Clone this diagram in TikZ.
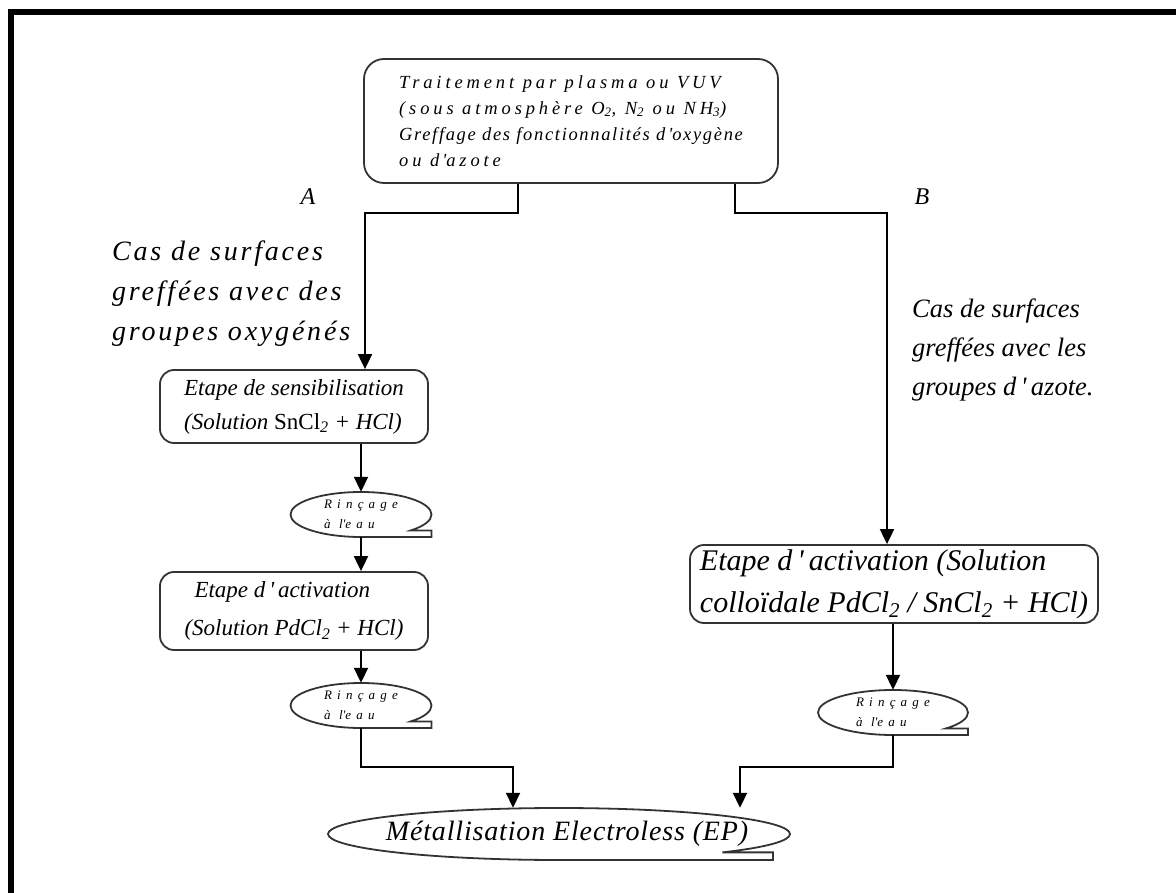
\documentclass[tikz,border=0pt]{standalone}
\usepackage{fontspec}
\setmainfont{Liberation Serif}
\newfontfamily\wideserif[LetterSpace=21]{Liberation Serif}
\newfontfamily\midserif[LetterSpace=10]{Liberation Serif}
\newfontfamily\lightserif[LetterSpace=3]{Liberation Serif}
\newfontfamily\tinyserif[LetterSpace=40]{Liberation Serif}
\usetikzlibrary{arrows.meta}

\tikzset{
  boxline/.style={draw=black!80, line width=1.8pt},
  stepbox/.style={boxline, rectangle, rounded corners=14pt, inner sep=0pt, align=left},
  tapebox/.style={rectangle, inner sep=0pt, align=left},
  lbl/.style={inner sep=0pt, align=left},
  link/.style={draw=black, line width=1.9pt},
  arr/.style={link, -{Triangle[length=15pt,width=14pt]}},
}

% outline of a "sequential access storage" shape around a node:
% #1 node, #2 x radius, #3 y radius, #4 tail length from the centre
\newcommand\tapeoutline[4]{%
  \draw[boxline] (#1.center) ++({0.7071*#2},{-0.7071*#3})
    arc[start angle=-45, end angle=270, x radius=#2pt, y radius=#3pt]
    -- ++(#4,0) -- ++(0,{0.2929*#3}) -- cycle;}

\begin{document}
\begin{tikzpicture}[x=1pt, y=1pt]
\useasboundingbox (0,0) rectangle (1176,-893);

% heavy frame on the top and left edges
\fill (8,-9) rectangle (1176,-15);
\fill (8,-9) rectangle (14,-893);

% starting treatment
\node[stepbox, rounded corners=20pt, minimum width=414pt, minimum height=124pt,
      font=\wideserif\itshape\fontsize{18.5}{26}\selectfont] (top) at (571,-121)
  {Traitement par plasma ou VUV\\
   (sous atmosphère O\textsubscript{2}, N\textsubscript{2} ou NH\textsubscript{3})\\
   {\addfontfeature{LetterSpace=9}Greffage des fonctionnalités d\,\textquotesingle oxygène}\\
   ou d\,\textquotesingle azote};

% branch letters and branch descriptions
\node[lbl, font=\itshape\fontsize{24}{24}\selectfont] (brA) at (308,-197) {A};
\node[lbl, font=\itshape\fontsize{24}{24}\selectfont] (brB) at (922,-197) {B};

\node[lbl, anchor=west, font=\midserif\itshape\fontsize{28}{40}\selectfont] (casA) at (112,-294)
  {Cas de surfaces\\greffées avec des\\groupes oxygénés};
\node[lbl, anchor=west, font=\itshape\fontsize{26.5}{39}\selectfont] (casB) at (912,-350)
  {Cas de surfaces\\greffées avec les\\groupes d\,\textquotesingle\,azote.};

% branch A steps
\node[stepbox, minimum width=268pt, minimum height=73pt,
      font=\itshape\fontsize{23}{34}\selectfont] (sens) at (294,-406.5)
  {Etape de sensibilisation\\(Solution {\upshape SnCl}\textsubscript{2} + HCl)};

\node[tapebox, minimum width=141pt, minimum height=45pt,
      font=\tinyserif\itshape\fontsize{13}{20}\selectfont] (rin1) at (361,-514.5)
  {Rinçage\\à l\textquotesingle eau};

\node[stepbox, minimum width=268pt, minimum height=78pt,
      font=\itshape\fontsize{23}{38}\selectfont] (actA) at (294,-611)
  {\hspace{10pt}Etape d\,\textquotesingle\,activation\\(Solution PdCl\textsubscript{2} + HCl)};

\node[tapebox, minimum width=141pt, minimum height=45pt,
      font=\tinyserif\itshape\fontsize{13}{20}\selectfont] (rin2) at (361,-705.5)
  {Rinçage\\à l\textquotesingle eau};

% branch B steps
\node[stepbox, minimum width=408pt, minimum height=78pt,
      font=\itshape\fontsize{30}{42}\selectfont] (actB) at (894,-584)
  {Etape d\,\textquotesingle\,activation (Solution\\colloïdale PdCl\textsubscript{2} / SnCl\textsubscript{2} + HCl)};

\node[tapebox, minimum width=150pt, minimum height=45pt,
      font=\tinyserif\itshape\fontsize{13}{20}\selectfont] (rin3) at (893,-712.5)
  {Rinçage\\à l\textquotesingle eau};

% final step
\node[tapebox, minimum width=462pt, minimum height=52pt,
      font=\lightserif\itshape\fontsize{28}{28}\selectfont] (met) at (559,-834)
  {\hspace{16pt}Métallisation Electroless (EP)};

\tapeoutline{rin1}{70.5}{22.5}{70.5}
\tapeoutline{rin2}{70.5}{22.5}{70.5}
\tapeoutline{rin3}{75}{22.5}{75}
\tapeoutline{met}{231}{26}{214}

% connectors
\coordinate (A1) at (518,-213);
\coordinate (A2) at (365,-213);
\coordinate (B1) at (735,-213);
\coordinate (B2) at (887,-213);
\coordinate (C2) at (513,-767);
\coordinate (D2) at (740,-767);

\draw[arr] (top.south -| A1) -- (A1) -- (A2) -- (A2 |- sens.north);
\draw[arr] (top.south -| B1) -- (B1) -- (B2) -- (B2 |- actB.north);

\draw[arr] (rin1.north |- sens.south) -- (rin1.north);
\draw[arr] (rin1.south) -- (rin1.south |- actA.north);
\draw[arr] (rin2.north |- actA.south) -- (rin2.north);
\draw[arr] (rin2.south) -- (rin2.south |- C2) -- (C2) -- (C2 |- met.north);

\draw[arr] (rin3.north |- actB.south) -- (rin3.north);
\draw[arr] (rin3.south) -- (rin3.south |- D2) -- (D2) -- (D2 |- met.north);
\end{tikzpicture}
\end{document}
